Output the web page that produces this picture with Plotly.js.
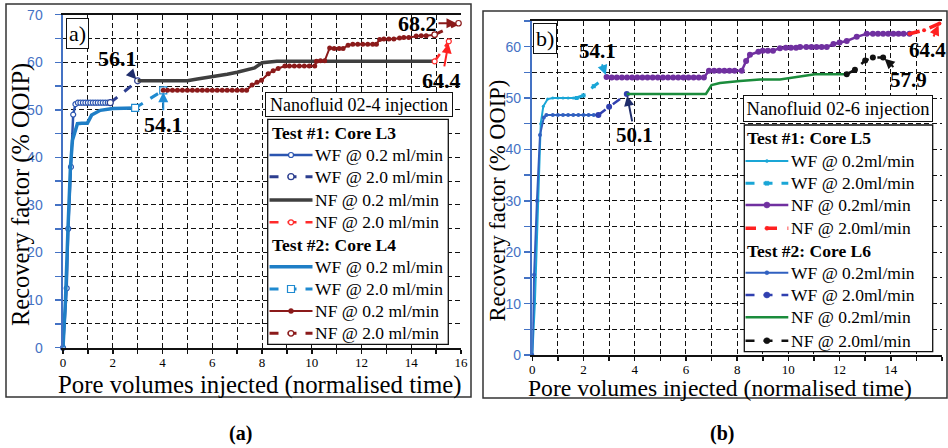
<!DOCTYPE html>
<html><head><meta charset="utf-8">
<script src="https://cdn.plot.ly/plotly-3.0.1.min.js"></script>
<style>html,body{margin:0;padding:0;background:#fff;} #chart{width:948px;height:448px;}</style>
</head><body><div id="chart"></div>
<script>
// ---------- Panel (a): Nanofluid 02-4 ----------
const a_L3_WF02_x = [0, 0.15, 0.21, 0.32, 0.41, 0.5, 0.6, 0.7, 0.8, 0.9, 1.0, 1.1, 1.2, 1.3, 1.4, 1.5, 1.6, 1.7, 1.8, 1.9];
const a_L3_WF02_y = [0, 12.5, 25, 38, 49, 51.2, 51.5, 51.5, 51.5, 51.5, 51.5, 51.5, 51.5, 51.5, 51.5, 51.5, 51.5, 51.5, 51.5, 51.5];
const a_L3_WF20_x = [1.9, 3.0];
const a_L3_WF20_y = [51.5, 56.1];
const a_L3_NF02_x = [3.0, 4.0, 5.0, 5.4, 5.8, 6.2, 6.6, 7.0, 7.3, 7.7, 8.0, 8.6, 10.0, 12.0, 14.94];
const a_L3_NF02_y = [56.1, 56.1, 56.1, 56.5, 56.8, 57.2, 57.5, 57.9, 58.3, 58.8, 59.9, 60.2, 60.2, 60.2, 60.2];
const a_L3_NF20_x = [14.94, 15.51];
const a_L3_NF20_y = [60.2, 64.4];

const a_L4_WF02_x = [0, 0.1, 0.2, 0.3, 0.38, 0.58, 0.75, 0.98, 1.15, 1.5, 2.0, 2.5, 2.9];
const a_L4_WF02_y = [0, 10, 25, 38, 43.6, 47.1, 47.2, 47.2, 48.9, 49.9, 50.3, 50.4, 50.4];
const a_L4_WF20_x = [2.9, 4.03];
const a_L4_WF20_y = [50.4, 54.1];
const a_L4_NF02_x = [4.03, 4.2, 4.4, 4.6, 4.8, 5.0, 5.2, 5.4, 5.6, 5.8, 6.0, 6.2, 6.4, 6.6, 6.8, 7.0, 7.2, 7.38,
  7.6, 7.8, 7.98, 8.25, 8.45, 8.65, 8.92, 9.1, 9.3, 9.5, 9.7, 9.9, 10.12, 10.19, 10.35, 10.52, 10.72, 10.9, 11.1, 11.26,
  11.46, 11.65, 11.85, 12.05, 12.25, 12.45, 12.6, 12.73, 12.9, 13.1, 13.3, 13.53, 13.7, 13.9, 14.2, 14.4, 14.6, 14.94];
const a_L4_NF02_y = [54.1, 54.1, 54.1, 54.1, 54.1, 54.1, 54.1, 54.1, 54.1, 54.1, 54.1, 54.1, 54.1, 54.1, 54.1, 54.1, 54.1, 54.1,
  55.2, 55.8, 56.2, 57.6, 58.2, 58.7, 59.2, 59.2, 59.2, 59.2, 59.2, 59.2, 59.2, 60.2, 60.3, 60.3, 63.0, 62.9, 62.9, 62.9,
  63.6, 63.8, 63.8, 63.8, 63.8, 63.8, 63.8, 64.8, 64.9, 64.9, 64.9, 65.1, 65.2, 65.2, 65.5, 65.6, 65.6, 65.8];
const a_L4_NF20_x = [14.94, 15.9];
const a_L4_NF20_y = [65.8, 68.2];

// ---------- Panel (b): Nanofluid 02-6 ----------
const b_L5_WF02_x = [0, 0.1, 0.23, 0.33, 0.43, 0.6, 0.8, 1.0, 1.2, 1.4, 1.6, 1.73];
const b_L5_WF02_y = [0, 10, 30, 45, 48.4, 49.8, 50, 50, 50, 50, 50, 50];
const b_L5_WF20_x = [1.73, 2.0, 2.4, 2.9];
const b_L5_WF20_y = [50, 50.5, 52.3, 54.1];
const b_L5_NF02_x = [2.9, 3.1, 3.3, 3.5, 3.7, 3.9, 4.1, 4.3, 4.5, 4.7, 4.9, 5.1, 5.3, 5.5, 5.7, 5.9, 6.1, 6.3, 6.5, 6.7,
  6.9, 7.1, 7.3, 7.5, 7.7, 7.9, 8.18, 8.35, 8.5, 8.83, 9.0, 9.2, 9.4, 9.67, 9.9, 10.1, 10.3, 10.46, 10.7, 10.9, 11.1, 11.3, 11.5,
  11.76, 12.0, 12.28, 12.67, 13.06, 13.3, 13.5, 13.7, 13.9, 14.1, 14.3, 14.5, 14.73];
const b_L5_NF02_y = [54.1, 54.0, 54.0, 54.0, 54.0, 54.0, 54.0, 54.0, 54.0, 54.0, 54.0, 54.0, 54.0, 54.0, 54.0, 54.0, 54.0, 54.0, 54.0, 54.0,
  55.3, 55.3, 55.3, 55.3, 55.3, 55.3, 55.3, 57.2, 58.4, 59.0, 59.2, 59.2, 59.2, 59.7, 59.8, 59.8, 59.8, 59.9, 59.9, 59.9, 59.9, 59.9, 59.9,
  60.5, 60.8, 61.1, 61.9, 62.5, 62.5, 62.5, 62.5, 62.5, 62.5, 62.5, 62.5, 62.5];
const b_L5_NF20_x = [14.73, 15.3, 15.9];
const b_L5_NF20_y = [62.5, 63.2, 64.5];

const b_L6_WF02_x = [0, 0.07, 0.18, 0.3, 0.45, 0.55, 0.8, 1.0, 1.2, 1.4, 1.6, 1.8, 2.0, 2.2, 2.4, 2.58];
const b_L6_WF02_y = [0, 15.6, 30, 42.8, 46.2, 46.7, 46.7, 46.7, 46.7, 46.7, 46.7, 46.7, 46.7, 46.7, 46.7, 46.7];
const b_L6_WF20_x = [2.58, 3.0, 3.69];
const b_L6_WF20_y = [46.7, 48.3, 50.8];
const b_L6_NF02_x = [3.69, 6.78, 7.0, 7.33, 8.11, 8.89, 9.67, 10.45, 11.04, 12.28];
const b_L6_NF02_y = [50.8, 50.8, 52.5, 52.9, 53.3, 53.6, 53.6, 54.1, 54.6, 54.6];
const b_L6_NF20_x = [12.28, 12.6, 13.0, 13.3, 13.7];
const b_L6_NF20_y = [54.6, 55.5, 57.3, 57.9, 57.9];

// ticks (labels only at even / multiples of 10)
const xTickVals = [0, 1, 2, 3, 4, 5, 6, 7, 8, 9, 10, 11, 12, 13, 14, 15, 16];
const xTickText = ['0', '', '2', '', '4', '', '6', '', '8', '', '10', '', '12', '', '14', '', '16'];
const aYTickVals = [0, 5, 10, 15, 20, 25, 30, 35, 40, 45, 50, 55, 60, 65, 70];
const aYTickText = ['0', '', '10', '', '20', '', '30', '', '40', '', '50', '', '60', '', '70'];
const bYTickVals = [0, 5, 10, 15, 20, 25, 30, 35, 40, 45, 50, 55, 60, 65];
const bYTickText = ['0', '', '10', '', '20', '', '30', '', '40', '', '50', '', '60', ''];

const legendNamesA = ['WF @ 0.2 ml/min', 'WF @ 2.0 ml/min', 'NF @ 0.2 ml/min', 'NF @ 2.0 ml/min'];
const legendNamesB = ['WF @ 0.2ml/min', 'WF @ 2.0ml/min', 'NF @ 0.2ml/min', 'NF @ 2.0ml/min'];
const groupTitlesA = ['Test #1: Core L3', 'Test #2: Core L4'];
const groupTitlesB = ['Test #1: Core L5', 'Test #2: Core L6'];

// ---------- build ----------
const SERIF = 'Liberation Serif';
const W = 948, H = 448;
const px = v => v / W, py = v => (H - v) / H;

function tr(x, y, name, xa, ya, line, marker) {
  const t = {type: 'scatter', x: x, y: y, name: name, xaxis: xa, yaxis: ya, line: line, cliponaxis: false, showlegend: false};
  if (marker) { t.mode = 'lines+markers'; t.marker = marker; } else { t.mode = 'lines'; }
  return t;
}
const wm = (c, s, sym) => ({symbol: sym || 'circle', size: s, color: 'white', line: {color: c, width: 1.2}});
const fm = (c, s, sym) => ({symbol: sym || 'circle', size: s, color: c, line: {width: 0}});

const tracesA = [
  tr(a_L3_WF02_x, a_L3_WF02_y, legendNamesA[0], 'x', 'y', {color: '#2B55B0', width: 2.5}, wm('#2B55B0', 5)),
  tr(a_L3_WF20_x, a_L3_WF20_y, legendNamesA[1], 'x', 'y', {color: '#2C3E8F', width: 3, dash: 'dash'}, wm('#2C3E8F', 6)),
  tr(a_L3_NF02_x, a_L3_NF02_y, legendNamesA[2], 'x', 'y', {color: '#3F3F3F', width: 3.5}),
  tr(a_L3_NF20_x, a_L3_NF20_y, legendNamesA[3], 'x', 'y', {color: '#FF2A2A', width: 2.5, dash: 'dash'}, wm('#FF2A2A', 5)),
  tr(a_L4_WF02_x, a_L4_WF02_y, legendNamesA[0], 'x', 'y', {color: '#1F7EC6', width: 3.5}),
  tr(a_L4_WF20_x, a_L4_WF20_y, legendNamesA[1], 'x', 'y', {color: '#1F8AD0', width: 3, dash: 'dash'}, wm('#1F8AD0', 7, 'square')),
  tr(a_L4_NF02_x, a_L4_NF02_y, legendNamesA[2], 'x', 'y', {color: '#8B1A1A', width: 2}, fm('#8B1A1A', 5)),
  tr(a_L4_NF20_x, a_L4_NF20_y, legendNamesA[3], 'x', 'y', {color: '#8B1A1A', width: 3, dash: 'dash'}, wm('#8B1A1A', 5.5)),
];
const tracesB = [
  tr(b_L5_WF02_x, b_L5_WF02_y, legendNamesB[0], 'x2', 'y2', {color: '#1AA6D6', width: 2}, fm('#1AA6D6', 3)),
  tr(b_L5_WF20_x, b_L5_WF20_y, legendNamesB[1], 'x2', 'y2', {color: '#1AA6D6', width: 3, dash: 'dash'}, fm('#1AA6D6', 4, 'square')),
  tr(b_L5_NF02_x, b_L5_NF02_y, legendNamesB[2], 'x2', 'y2', {color: '#7030A0', width: 2.5}, fm('#7030A0', 6)),
  tr(b_L5_NF20_x, b_L5_NF20_y, legendNamesB[3], 'x2', 'y2', {color: '#FF2020', width: 3.5, dash: 'dash'}, fm('#FF2020', 4)),
  tr(b_L6_WF02_x, b_L6_WF02_y, legendNamesB[0], 'x2', 'y2', {color: '#3060C0', width: 2}, fm('#3060C0', 4)),
  tr(b_L6_WF20_x, b_L6_WF20_y, legendNamesB[1], 'x2', 'y2', {color: '#3040B0', width: 2.5, dash: 'dash'}, fm('#3040B0', 6)),
  tr(b_L6_NF02_x, b_L6_NF02_y, legendNamesB[2], 'x2', 'y2', {color: '#1B8C3C', width: 2.5}),
  tr(b_L6_NF20_x, b_L6_NF20_y, legendNamesB[3], 'x2', 'y2', {color: '#111111', width: 2.5, dash: 'dash'}, fm('#111111', 6)),
];
const data = tracesA.concat(tracesB);

const GD = '5px,3px';
function xAxis(domain, yref, standoff) {
  return {domain: domain, anchor: yref, range: [0, 16], tickmode: 'array', tickvals: xTickVals, ticktext: xTickText,
    showgrid: true, gridcolor: '#111111', gridwidth: 1, griddash: GD, zeroline: false,
    ticks: 'outside', ticklen: 4, tickcolor: '#111111', tickwidth: 1.5,
    showline: true, linecolor: '#111111', linewidth: 2, mirror: true,
    tickfont: {family: SERIF, size: 13, color: '#000000'}, ticklabelstandoff: standoff};
}
function yAxis(domain, xref, rng, tv, tt, standoff) {
  return {domain: domain, anchor: xref, range: rng, tickmode: 'array', tickvals: tv, ticktext: tt,
    showgrid: true, gridcolor: '#111111', gridwidth: 1, griddash: GD, zeroline: false,
    ticks: 'outside', ticklen: 6, tickcolor: '#4472C4', tickwidth: 1.5,
    showline: true, linecolor: '#4472C4', linewidth: 2.5,
    tickfont: {family: 'Liberation Sans', size: 14, color: '#4472C4'}, ticklabelstandoff: standoff};
}
function yRight(over, xref, rng, tv) {
  return {overlaying: over, anchor: xref, side: 'right', range: rng, tickmode: 'array', tickvals: tv,
    showgrid: false, zeroline: false, showticklabels: false, ticks: 'inside', ticklen: 5,
    tickcolor: '#111111', showline: true, linecolor: '#111111', linewidth: 2};
}

const numFont = {family: SERIF, size: 22, color: 'black', weight: 'bold'};
const numFontB = {family: SERIF, size: 21, color: 'black', weight: 'bold'};
function lab(text, x, y, xa, ya, ax, ay, color, font) {
  return {text: text, x: x, y: y, xref: xa, yref: ya, ax: ax, ay: ay, showarrow: true,
    arrowcolor: color, arrowwidth: 2, arrowhead: 2, arrowsize: 1, standoff: 2, font: font};
}
function txt(text, cx, cy, font, extra) {
  return Object.assign({text: text, x: px(cx), y: py(cy), xref: 'paper', yref: 'paper', showarrow: false,
    xanchor: 'center', yanchor: 'middle', font: font}, extra || {});
}

const annotations = [
  lab('56.1', a_L3_WF20_x[1], a_L3_WF20_y[1], 'x', 'y', -20, -22, '#1F2D6B', numFont),
  lab('54.1', a_L4_WF20_x[1], a_L4_WF20_y[1], 'x', 'y', 0, 34, '#1F8DD6', numFont),
  lab('68.2', a_L4_NF20_x[1], a_L4_NF20_y[1], 'x', 'y', -41, 0, '#8B1A1A', numFont),
  lab('64.4', a_L3_NF20_x[1], a_L3_NF20_y[1], 'x', 'y', -7, 39, '#FF2020', numFont),
  lab('54.1', b_L5_WF20_x[3], b_L5_WF20_y[3], 'x2', 'y2', -9.5, -26, '#1CA3D8', numFontB),
  lab('50.1', b_L6_WF20_x[2], b_L6_WF20_y[2], 'x2', 'y2', 8, 41, '#1F2D6B', numFontB),
  lab('64.4', b_L5_NF20_x[2], b_L5_NF20_y[2], 'x2', 'y2', -12, 26.5, '#FF2020', numFontB),
  lab('57.9', b_L6_NF20_x[4], b_L6_NF20_y[4], 'x2', 'y2', 25, 23, '#111111', numFontB),
  txt('a)', 77.5, 34, {family: SERIF, size: 22, color: 'black'}, {bgcolor: 'white', bordercolor: '#111', borderwidth: 1, borderpad: 2}),
  txt('b)', 545, 38, {family: SERIF, size: 22, color: 'black'}, {bgcolor: 'white', bordercolor: '#111', borderwidth: 1, borderpad: 2}),
  txt('Nanofluid 02-4 injection', 359, 104.2, {family: SERIF, size: 18, color: 'black'},
    {bgcolor: 'white', bordercolor: '#111', borderwidth: 1, width: 186, height: 23, borderpad: 0}),
  txt('Nanofluid 02-6 injection', 838, 108.7, {family: SERIF, size: 18.5, color: 'black'},
    {bgcolor: 'white', bordercolor: '#111', borderwidth: 1, width: 188, height: 25, borderpad: 0}),
  txt('Recovery factor (% OOIP)', 21, 195, {family: SERIF, size: 24.5, color: 'black'}, {textangle: -90}),
  txt('Recovery factor (% OOIP)', 496.5, 201, {family: SERIF, size: 22.5, color: 'black'}, {textangle: -90}),
  txt('Pore volumes injected (normalised time)', 260, 385, {family: SERIF, size: 24.8, color: 'black'}),
  txt('Pore volumes injected (normalised time)', 720, 388, {family: SERIF, size: 23.6, color: 'black'}),
  txt('(a)', 240, 433, {family: SERIF, size: 20, color: 'black', weight: 'bold'}),
  txt('(b)', 722, 433, {family: SERIF, size: 20, color: 'black', weight: 'bold'}),
];

const shapes = [
  {type: 'rect', xref: 'paper', yref: 'paper', x0: px(6), x1: px(471), y0: py(397), y1: py(4), line: {color: '#333', width: 1.5}},
  {type: 'rect', xref: 'paper', yref: 'paper', x0: px(483), x1: px(947), y0: py(398), y1: py(11), line: {color: '#333', width: 1.5}},
];

// ---------- hand-built legends (boxed, with group headers) ----------
function buildLegend(cfg, traces, names, titles) {
  shapes.push({type: 'rect', xref: 'paper', yref: 'paper', layer: 'above', x0: px(cfg.box[0]), x1: px(cfg.box[2]),
    y0: py(cfg.box[3]), y1: py(cfg.box[1]), fillcolor: 'white', line: {color: '#111', width: 1.3}});
  const font = {family: SERIF, size: cfg.fs, color: 'black'};
  const bfont = {family: SERIF, size: cfg.fs, color: 'black', weight: 'bold'};
  titles.forEach((t, g) => {
    annotations.push({text: t, x: px(cfg.headX), y: py(cfg.headY[g]), xref: 'paper', yref: 'paper', showarrow: false,
      xanchor: 'left', yanchor: 'middle', font: bfont});
  });
  traces.forEach((t, i) => {
    const y = cfg.rowY[i];
    shapes.push({type: 'line', xref: 'paper', yref: 'paper', layer: 'above', x0: px(cfg.sx0), x1: px(cfg.sx1), y0: py(y), y1: py(y),
      line: {color: t.line.color, width: t.line.width, dash: t.line.dash || 'solid'}});
    if (t.marker) {
      const r = t.marker.size / 2, cx = (cfg.sx0 + cfg.sx1) / 2;
      const open = t.marker.color === 'white';
      shapes.push({type: t.marker.symbol === 'square' ? 'rect' : 'circle', xref: 'paper', yref: 'paper', layer: 'above',
        x0: px(cx - r), x1: px(cx + r), y0: py(y + r), y1: py(y - r),
        fillcolor: open ? 'white' : t.marker.color, line: {color: open ? t.marker.line.color : t.marker.color, width: open ? 1.2 : 0.5}});
    }
    annotations.push({text: names[i % 4], x: px(cfg.textX), y: py(y), xref: 'paper', yref: 'paper', showarrow: false,
      xanchor: 'left', yanchor: 'middle', font: font});
  });
}
buildLegend({box: [267.7, 119.3, 448.3, 344.3], headX: 270, headY: [133.3, 245], rowY: [155, 176.7, 200, 222.3, 266.7, 289, 311, 333.3],
  sx0: 269.5, sx1: 312.5, textX: 313, fs: 17.5}, tracesA, legendNamesA, groupTitlesA);
buildLegend({box: [744.3, 125, 932.7, 351.7], headX: 745, headY: [137.7, 251], rowY: [161, 183.3, 205, 228.3, 272.7, 295, 317.3, 340.7],
  sx0: 745.5, sx1: 788.3, textX: 788.5, fs: 17.5}, tracesB, legendNamesB, groupTitlesB);

const layout = {
  width: W, height: H, margin: {l: 0, r: 0, t: 0, b: 0},
  paper_bgcolor: 'white', plot_bgcolor: 'white', showlegend: false,
  xaxis: xAxis([px(63), px(461)], 'y', -2),
  yaxis: yAxis([py(347.7), py(14.7)], 'x', [0, 70], aYTickVals, aYTickText, 9),
  xaxis2: xAxis([px(532.3), px(942)], 'y2', -3),
  yaxis2: yAxis([py(355), py(20.9)], 'x2', [0, 65], bYTickVals, bYTickText, 0),
  yaxis3: yRight('y', 'x', [0, 70], aYTickVals),
  yaxis4: yRight('y2', 'x2', [0, 65], bYTickVals),
  annotations: annotations, shapes: shapes
};

Plotly.newPlot('chart', data, layout, {staticPlot: true, displayModeBar: false});
</script></body></html>
